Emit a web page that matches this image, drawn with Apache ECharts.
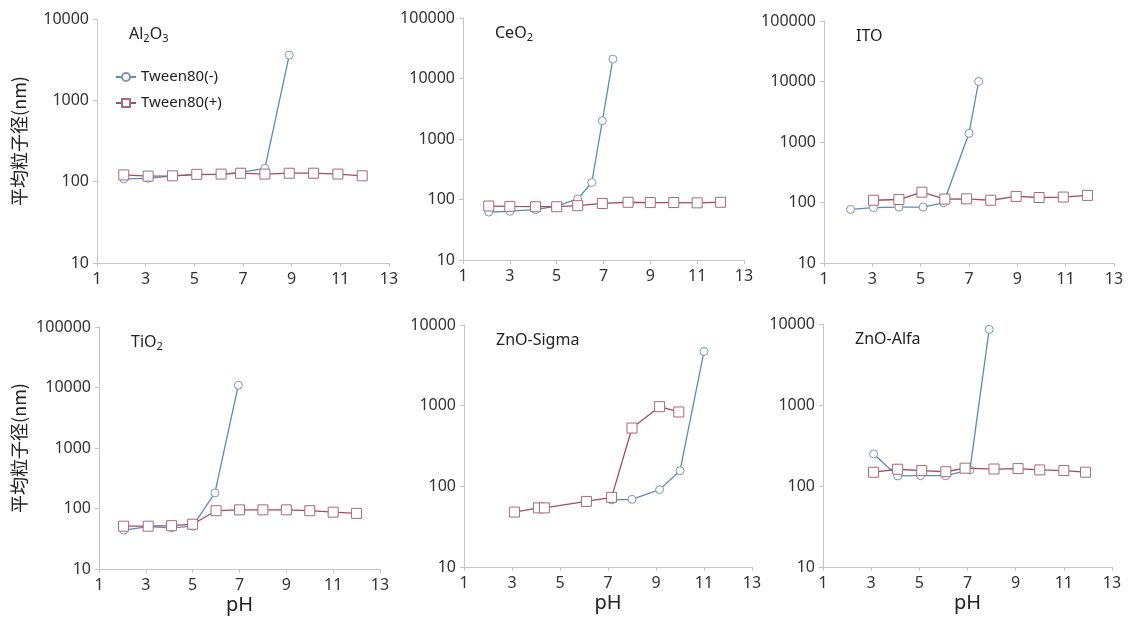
<!DOCTYPE html>
<html>
<head>
<meta charset="utf-8">
<script src="https://cdn.jsdelivr.net/npm/echarts@6/dist/echarts.min.js"></script>
<style>
  html, body { margin: 0; padding: 0; background: #fff; }
  #main { width: 1131px; height: 621px; }
</style>
</head>
<body>
<div id="main"></div>
<script>
// 各パネルのデータ（pH と平均粒子径 nm）
const phAl2O3Minus = [2.1, 3.1, 4.1, 5.1, 6.1, 6.9, 7.9, 8.9];
const sizeAl2O3Minus = [108, 110, 118, 122, 123, 130, 146, 3600];
const phAl2O3Plus = [2.1, 3.1, 4.1, 5.1, 6.1, 6.9, 7.9, 8.9, 9.9, 10.9, 11.9];
const sizeAl2O3Plus = [121, 117, 118, 123, 124, 127, 124, 127, 127, 124, 118];

const phCeO2Minus = [2.1, 3.0, 4.1, 5.0, 5.9, 6.5, 6.95, 7.4];
const sizeCeO2Minus = [62, 64, 68, 78, 102, 191, 2000, 20900];
const phCeO2Plus = [2.1, 3.0, 4.1, 5.0, 5.9, 6.95, 8.05, 9.0, 10.0, 11.0, 12.0];
const sizeCeO2Plus = [78, 77, 76, 76, 79, 86, 90, 89, 89, 88, 90];

const phItoMinus = [2.1, 3.05, 4.1, 5.1, 5.95, 7.0, 7.4];
const sizeItoMinus = [77, 82, 84, 84, 99, 1390, 10000];
const phItoPlus = [3.05, 4.1, 5.05, 6.0, 6.9, 7.9, 8.95, 9.9, 10.9, 11.9];
const sizeItoPlus = [109, 112, 148, 114, 115, 109, 126, 121, 123, 131];

const phTiO2Minus = [2.05, 3.1, 4.1, 5.0, 5.95, 6.95];
const sizeTiO2Minus = [44, 50, 48, 51, 181, 10900];
const phTiO2Plus = [2.05, 3.1, 4.1, 5.0, 6.0, 7.0, 8.0, 9.0, 10.0, 11.0, 12.0];
const sizeTiO2Plus = [51, 51, 52, 55, 92, 95, 95, 95, 92, 87, 83];

const phSigmaMinus = [7.15, 8.0, 9.15, 10.0, 11.0];
const sizeSigmaMinus = [68, 69, 91, 156, 4700];
const phSigmaPlus = [3.1, 4.1, 4.35, 6.1, 7.15, 8.0, 9.15, 9.95];
const sizeSigmaPlus = [48, 54, 54, 65, 73, 528, 972, 835];

const phAlfaMinus = [3.1, 4.1, 5.05, 6.1, 7.1, 7.9];
const sizeAlfaMinus = [249, 133, 134, 134, 158, 8580];
const phAlfaPlus = [3.1, 4.1, 5.1, 6.1, 6.9, 8.1, 9.1, 10.0, 11.0, 11.9];
const sizeAlfaPlus = [148, 161, 155, 150, 166, 162, 164, 158, 155, 148];

const xTicks = [1, 3, 5, 7, 9, 11, 13];

const pair = (xs, ys) => xs.map((x, i) => [x, ys[i]]);

const panels = [
    { title: '{a|Al}{s|2}{a|O}{s|3}', max: 10000, minus: pair(phAl2O3Minus, sizeAl2O3Minus), plus: pair(phAl2O3Plus, sizeAl2O3Plus),
      grid: { left: 97, top: 19, width: 292, height: 244 }, yName: true },
    { title: '{a|CeO}{s|2}', max: 100000, minus: pair(phCeO2Minus, sizeCeO2Minus), plus: pair(phCeO2Plus, sizeCeO2Plus),
      grid: { left: 463, top: 18, width: 281, height: 242 } },
    { title: '{a|ITO}', max: 100000, minus: pair(phItoMinus, sizeItoMinus), plus: pair(phItoPlus, sizeItoPlus),
      grid: { left: 824, top: 21, width: 290, height: 242 } },
    { title: '{a|TiO}{s|2}', max: 100000, minus: pair(phTiO2Minus, sizeTiO2Minus), plus: pair(phTiO2Plus, sizeTiO2Plus),
      grid: { left: 99, top: 327, width: 281, height: 242 }, yName: true, xName: true },
    { title: '{a|ZnO-Sigma}', max: 10000, minus: pair(phSigmaMinus, sizeSigmaMinus), plus: pair(phSigmaPlus, sizeSigmaPlus),
      grid: { left: 464, top: 325, width: 288, height: 242 }, xName: true },
    { title: '{a|ZnO-Alfa}', max: 10000, minus: pair(phAlfaMinus, sizeAlfaMinus), plus: pair(phAlfaPlus, sizeAlfaPlus),
      grid: { left: 823, top: 324, width: 289, height: 243 }, xName: true },
];

const font = 'Noto Sans, Noto Sans CJK JP, sans-serif';
const axisGrey = '#c6c6c6';
const blue = '#5b8bb8';
const red = '#a24e5c';

const myChart = echarts.init(document.getElementById('main'));

const option = {
    backgroundColor: '#fff',
    animation: false,
    textStyle: { fontFamily: font },
    legend: {
        data: ['Tween80(-)', 'Tween80(+)'],
        orient: 'vertical',
        left: 115,
        top: 67,
        padding: 0,
        itemGap: 6,
        itemWidth: 20,
        itemHeight: 10,
        textStyle: { fontSize: 15, color: '#222', fontFamily: font, lineHeight: 20 },
    },
    title: panels.map(p => ({
        text: p.title,
        left: p.grid.left + 32,
        top: p.grid.top + 5,
        padding: 0,
        textStyle: {
            fontWeight: 'normal',
            rich: {
                a: { fontSize: 16, color: '#222', fontFamily: font, lineHeight: 20, fontWeight: 'normal' },
                s: { fontSize: 11, color: '#222', fontFamily: font, lineHeight: 10, verticalAlign: 'bottom', fontWeight: 'normal' },
            },
        },
    })),
    grid: panels.map(p => p.grid),
    xAxis: panels.map((p, i) => ({
        gridIndex: i,
        type: 'value',
        min: 1,
        max: 13,
        interval: 2,
        name: p.xName ? 'pH' : '',
        nameLocation: 'middle',
        nameGap: 26,
        nameTextStyle: { fontSize: 20, color: '#222', fontFamily: font },
        axisLine: { show: true, lineStyle: { color: axisGrey, width: 1 } },
        axisTick: { show: true, length: 4, lineStyle: { color: axisGrey } },
        axisLabel: { fontSize: 16, color: '#333', margin: 8, fontFamily: font,
            customValues: xTicks },
        splitLine: { show: false },
    })),
    yAxis: panels.map((p, i) => ({
        gridIndex: i,
        type: 'log',
        logBase: 10,
        min: 10,
        max: p.max,
        name: p.yName ? '平均粒子径(nm)' : '',
        nameLocation: 'middle',
        nameGap: p.grid.left - 28,
        nameTextStyle: { fontSize: 18, color: '#222', fontFamily: 'Noto Sans CJK JP, sans-serif' },
        axisLine: { show: true, lineStyle: { color: axisGrey, width: 1 } },
        axisTick: { show: true, length: 4, lineStyle: { color: axisGrey } },
        axisLabel: { fontSize: 16, color: '#333', margin: 8, fontFamily: font,
            formatter: v => String(Math.round(v)) },
        splitLine: { show: false },
    })),
    series: panels.flatMap((p, i) => [
        {
            name: 'Tween80(-)',
            type: 'line',
            xAxisIndex: i,
            yAxisIndex: i,
            data: p.minus,
            symbol: 'circle',
            symbolSize: 8,
            lineStyle: { color: blue, width: 1.3 },
            itemStyle: { color: '#fff', borderColor: '#7f97b3', borderWidth: 1 },
            z: 2,
        },
        {
            name: 'Tween80(+)',
            type: 'line',
            xAxisIndex: i,
            yAxisIndex: i,
            data: p.plus,
            symbol: 'rect',
            symbolSize: 10,
            lineStyle: { color: red, width: 1.3 },
            itemStyle: { color: '#fff', borderColor: '#a86a76', borderWidth: 1 },
            z: 3,
        },
    ]),
};
myChart.setOption(option);
</script>
</body>
</html>
